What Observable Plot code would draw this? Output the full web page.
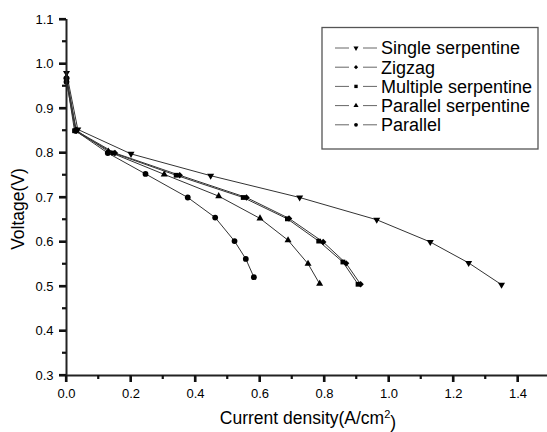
<!DOCTYPE html>
<html>
<head>
<meta charset="utf-8">
<script src="https://cdn.jsdelivr.net/npm/d3@7"></script>
<script src="https://cdn.jsdelivr.net/npm/@observablehq/plot@0.6"></script>
<style>
  html, body { margin: 0; padding: 0; background: #fff; }
  #chart { width: 547px; height: 432px; }
</style>
</head>
<body>
<div id="chart"></div>
<script>
// ---- data ----
const seriesNames = ["Single serpentine", "Zigzag", "Multiple serpentine", "Parallel serpentine", "Parallel"];

const singleX = [0, 0.035, 0.20, 0.447, 0.723, 0.962, 1.128, 1.247, 1.349];
const singleY = [0.98, 0.853, 0.798, 0.749, 0.700, 0.650, 0.600, 0.553, 0.504];

const zigzagX = [0, 0.030, 0.150, 0.351, 0.558, 0.690, 0.796, 0.867, 0.912];
const zigzagY = [0.97, 0.850, 0.800, 0.750, 0.700, 0.653, 0.600, 0.552, 0.505];

const multipleX = [0, 0.025, 0.145, 0.340, 0.548, 0.685, 0.782, 0.857, 0.904];
const multipleY = [0.965, 0.850, 0.800, 0.750, 0.700, 0.652, 0.602, 0.555, 0.505];

const parSerpX = [0, 0.030, 0.130, 0.303, 0.472, 0.600, 0.687, 0.749, 0.785];
const parSerpY = [0.97, 0.851, 0.803, 0.752, 0.703, 0.653, 0.604, 0.551, 0.506];

const parallelX = [0, 0.028, 0.128, 0.245, 0.376, 0.461, 0.521, 0.556, 0.581];
const parallelY = [0.96, 0.850, 0.800, 0.753, 0.700, 0.655, 0.602, 0.562, 0.521];

const xTicks = [0, 0.2, 0.4, 0.6, 0.8, 1.0, 1.2, 1.4];
const xMinor = [0.1, 0.3, 0.5, 0.7, 0.9, 1.1, 1.3];
const yTicks = [0.3, 0.4, 0.5, 0.6, 0.7, 0.8, 0.9, 1.0, 1.1];
const yMinor = [0.35, 0.45, 0.55, 0.65, 0.75, 0.85, 0.95, 1.05];

const xTitle = "Current density(A/cm";
const xTitleSup = "2";
const yTitle = "Voltage(V)";

// ---- build table ----
const xs = [singleX, zigzagX, multipleX, parSerpX, parallelX];
const ys = [singleY, zigzagY, multipleY, parSerpY, parallelY];
const rows = [];
seriesNames.forEach((s, i) => xs[i].forEach((x, j) => rows.push({series: s, x, y: ys[i][j]})));

// downward triangle symbol
const triangleDown = {
  draw(context, size) {
    const s3 = Math.sqrt(3);
    const y = -Math.sqrt(size / (s3 * 3));
    context.moveTo(0, -y * 2);
    context.lineTo(-s3 * y, y);
    context.lineTo(s3 * y, y);
    context.closePath();
  }
};
const symbols = [triangleDown, "diamond2", "square", "triangle", "circle"];
const sizes = [2.6, 2.9, 2.7, 2.6, 2.9];

const font = "Arial, 'Liberation Sans', Helvetica, sans-serif";
const W = 547, H = 432, mL = 66, mR = 0, mT = 19, mB = 57;
const xMax = 1.4915;

const dotMarks = seriesNames.map((s, i) =>
  Plot.dot(rows.filter(d => d.series === s), {x: "x", y: "y", symbol: symbols[i], r: sizes[i], fill: "#000", stroke: "none"})
);

const chart = Plot.plot({
  width: W, height: H,
  marginLeft: mL, marginRight: mR, marginTop: mT, marginBottom: mB,
  style: {fontFamily: font, fontSize: "13px", background: "#fff", color: "#000"},
  x: {domain: [0, xMax]},
  y: {domain: [0.3, 1.1]},
  marks: [
    Plot.axisX({ticks: xTicks, tickSize: 7, tickPadding: 6, tickFormat: d3.format(".1f"), label: null, strokeWidth: 2, stroke: "#111", fill: "#000", fontSize: 13}),
    Plot.axisY({ticks: yTicks, tickSize: 7, tickPadding: 6, tickFormat: d3.format(".1f"), label: null, strokeWidth: 2, stroke: "#111", fill: "#000", fontSize: 13}),
    Plot.line(rows, {x: "x", y: "y", z: "series", stroke: "#333", strokeWidth: 1}),
    ...dotMarks,
    Plot.ruleY([0.3], {stroke: "#222", strokeWidth: 2}),
    Plot.ruleX([0], {stroke: "#222", strokeWidth: 2})
  ]
});
document.getElementById("chart").appendChild(chart);

// ---- tick marks drawn from the chart's own scales (filled rects) ----
const svg = d3.select(chart);
const sx = chart.scale("x"), sy = chart.scale("y");
const x0 = sx.apply(0), yBase = sy.apply(0.3);
const tg = svg.append("g");
const tw = 2.2;
const vtick = (x, len) => tg.append("rect").attr("x", x - tw / 2).attr("y", yBase).attr("width", tw).attr("height", len).attr("fill", "#111");
const htick = (y, len) => tg.append("rect").attr("x", x0 - len).attr("y", y - tw / 2).attr("width", len).attr("height", tw).attr("fill", "#111");
xTicks.forEach(v => vtick(sx.apply(v), 7));
xMinor.forEach(v => vtick(sx.apply(v), 4));
yTicks.forEach(v => htick(sy.apply(v), 7));
yMinor.forEach(v => htick(sy.apply(v), 4));

// ---- titles and legend ----
svg.append("text")
  .attr("transform", "translate(18,209) rotate(-90)")
  .attr("text-anchor", "middle").attr("dy", "0.35em")
  .style("font-family", font).style("font-size", "17.5px").attr("fill", "#000")
  .text(yTitle);

const xt = svg.append("text")
  .attr("x", 308).attr("y", 424)
  .attr("text-anchor", "middle")
  .style("font-family", font).style("font-size", "17.5px").attr("fill", "#000");
xt.append("tspan").text(xTitle);
xt.append("tspan").attr("dy", "-0.55em").style("font-size", "11px").text(xTitleSup);
xt.append("tspan").attr("dy", "0.55em").text(")");

const lg = svg.append("g").attr("text-anchor", "start");
lg.append("rect").attr("x", 322).attr("y", 27.5).attr("width", 216).attr("height", 121.5)
  .attr("fill", "#fff").attr("stroke", "#555").attr("stroke-width", 1.3);
const rowY = [48, 67.2, 86.4, 105.6, 124.8];
seriesNames.forEach((s, i) => {
  const g = lg.append("g").attr("transform", `translate(0,${rowY[i]})`);
  g.append("line").attr("x1", 335).attr("x2", 349).attr("y1", 0).attr("y2", 0).attr("stroke", "#666").attr("stroke-width", 1);
  g.append("line").attr("x1", 363).attr("x2", 377).attr("y1", 0).attr("y2", 0).attr("stroke", "#666").attr("stroke-width", 1);
  const sym = typeof symbols[i] === "string"
    ? {diamond2: d3.symbolDiamond2, square: d3.symbolSquare, triangle: d3.symbolTriangle, circle: d3.symbolCircle}[symbols[i]]
    : symbols[i];
  const r = 1.9;
  g.append("path").attr("transform", "translate(356,0)").attr("d", d3.symbol(sym, Math.PI * r * r)()).attr("fill", "#000");
  g.append("text").attr("x", 381).attr("dy", "0.36em").attr("text-anchor", "start")
    .style("font-family", font).style("font-size", "18px").attr("fill", "#000").text(s);
});
</script>
</body>
</html>
